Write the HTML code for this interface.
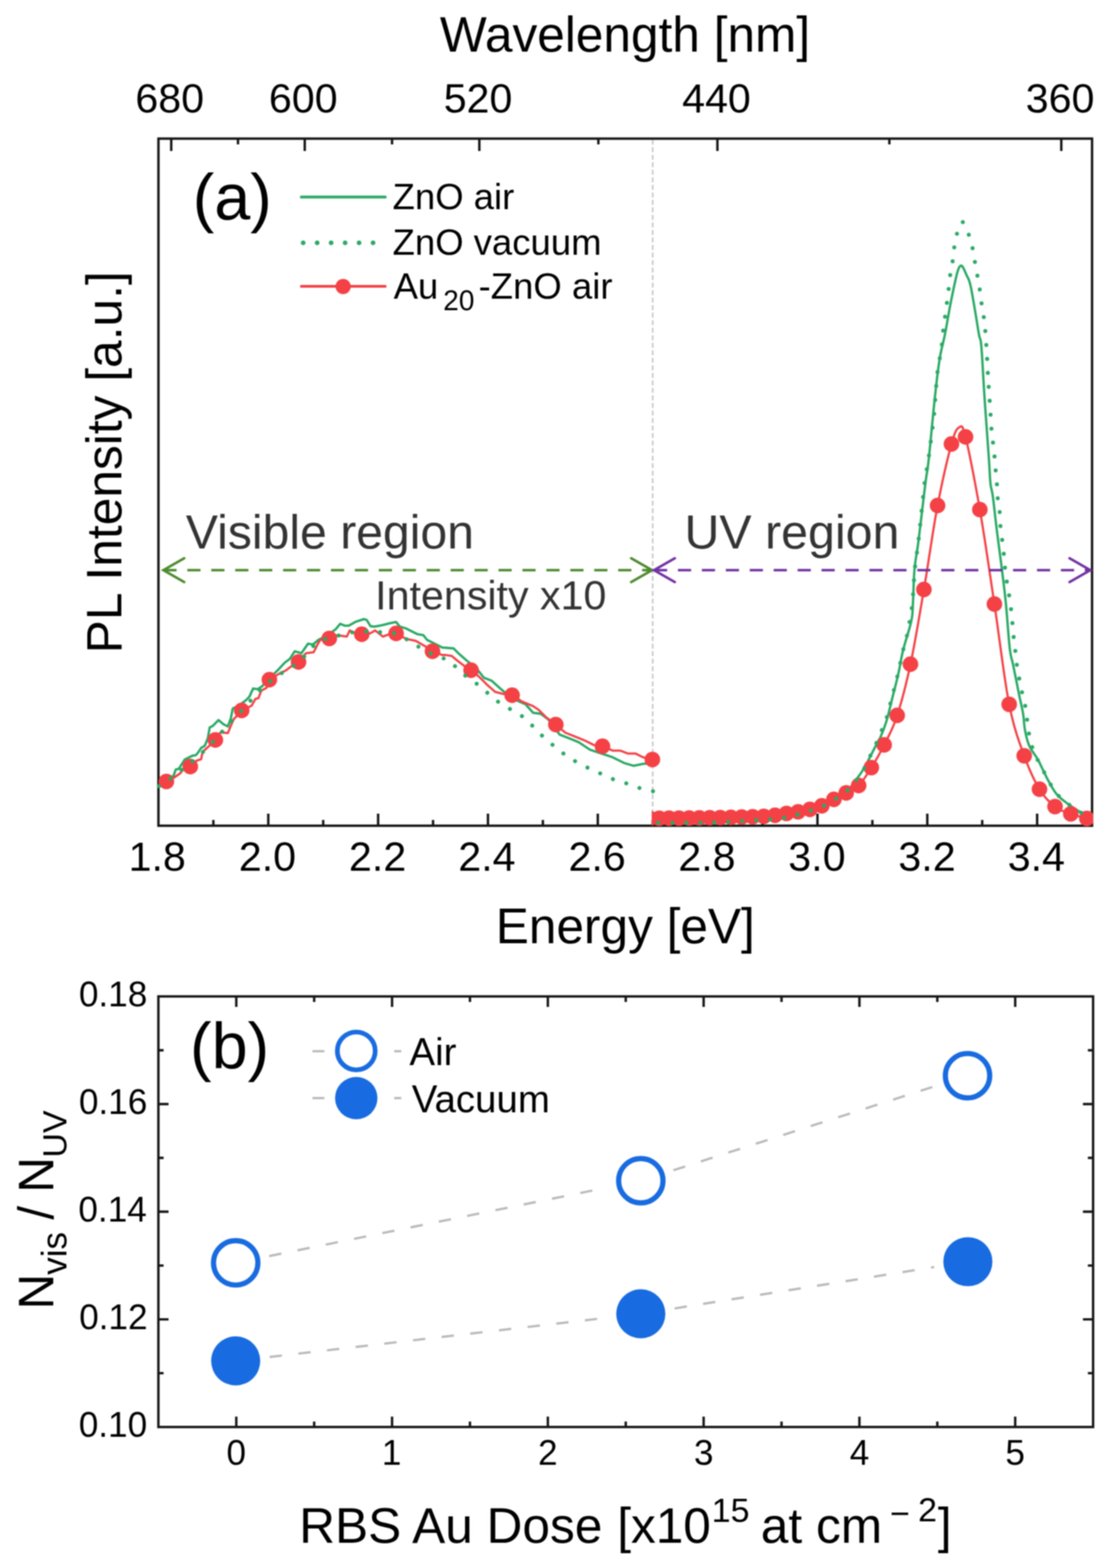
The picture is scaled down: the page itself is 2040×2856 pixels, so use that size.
<!DOCTYPE html>
<html><head><meta charset="utf-8"><title>PL spectra and N_vis/N_UV ratio</title>
<style>html,body{margin:0;padding:0;background:#fff;}svg{display:block;filter:blur(1px);}</style>
</head><body>
<svg width="2040" height="2856" viewBox="0 0 2040 2856"><rect x="0" y="0" width="2040" height="2856" fill="#fff"/>
<line x1="1188.86" y1="254.5" x2="1188.86" y2="1502" stroke="#c9c9c9" stroke-width="3" stroke-dasharray="9 4.7"/>
<rect x="288.6" y="252.5" width="1700.5" height="1251.5" fill="none" stroke="#161616" stroke-width="4.4"/>
<path d="M388.63 1504 V1493.5 M488.66 1504 V1482 M588.69 1504 V1493.5 M688.72 1504 V1482 M788.75 1504 V1493.5 M888.78 1504 V1482 M988.81 1504 V1493.5 M1088.84 1504 V1482 M1188.86 1504 V1493.5 M1288.89 1504 V1482 M1388.92 1504 V1493.5 M1488.95 1504 V1482 M1588.98 1504 V1493.5 M1689.01 1504 V1482 M1789.04 1504 V1493.5 M1889.07 1504 V1482 M311.9 252.5 V275 M555.08 252.5 V275 M873.08 252.5 V275 M1306.72 252.5 V275 M1933.08 252.5 V275 M433.49 252.5 V263 M714.08 252.5 V263 M1089.9 252.5 V263 M1619.9 252.5 V263" stroke="#161616" stroke-width="4.4" fill="none"/>
<defs><clipPath id="cv"><rect x="286" y="252.5" width="920" height="1253.5"/></clipPath>
<clipPath id="cu"><rect x="1187" y="252.5" width="804" height="1253.5"/></clipPath></defs>
<g clip-path="url(#cv)">
<path d="M289.5 1431 L300 1426 L310 1418 L316.2 1412.6 L320.2 1401.7 L325.6 1400.4 L336.5 1383.4 L350 1376.7 L356.8 1375.3 L360.9 1370.6 L366.3 1362.4 L373 1358.4 L378.5 1344.8 L381.9 1325.2 L388 1321.8 L398.1 1311.6 L406.9 1319.1 L415 1323.2 L420.5 1308.2 L423.9 1290.6 L435 1285 L447.6 1275.7 L454.3 1269 L461.1 1254 L469.2 1255.4 L477.4 1250 L490 1236 L505.9 1220.7 L518.8 1206.9 L528 1200 L536.9 1186.2 L549 1189.7 L561 1172.4 L570 1174 L580 1165.5 L595 1158 L611 1146.6 L619.7 1136.2 L628.3 1139.7 L635.2 1139.7 L647.2 1132.8 L662.8 1127.6 L668 1129.3 L674.8 1140.5 L681.7 1141.4 L695.5 1138.8 L709.3 1135.3 L721.4 1132.8 L728.3 1141.4 L740 1144.8 L750 1150 L760.7 1155.2 L771 1156.9 L777.9 1165.5 L788.3 1170.7 L805.5 1179.3 L826.2 1181 L836.6 1191.4 L850.3 1203.4 L867.6 1217.2 L881.4 1234.5 L895.2 1239.7 L912.4 1255.2 L933.1 1272.4 L957.2 1282.8 L971 1298.3 L984.8 1300 L998.6 1310.3 L1019.3 1337.9 L1036.6 1344.8 L1053.8 1351.7 L1074.5 1365.5 L1095.2 1372.4 L1115.9 1379.3 L1136.6 1389.7 L1153.8 1394.8 L1171 1391.4 L1189 1389.7" fill="none" stroke="#2aa965" stroke-width="4.3" stroke-linejoin="round" stroke-linecap="round"/>
<path d="M289.5 1430 L303.3 1423.4 L317.5 1416 L328.3 1408.5 L335 1400 L346 1396.3 L358.2 1385.5 L366.3 1382.8 L369 1369.2 L377.1 1362.4 L392.7 1347.5 L401.5 1334 L415 1335.3 L420.5 1321.8 L425.9 1309.6 L441.5 1294 L458.4 1285.2 L465.2 1273 L470.6 1271.7 L476 1258.1 L485.5 1252.7 L491.2 1237.9 L507.6 1227.6 L521.4 1220.7 L530 1214 L542.9 1205.2 L557.6 1189.7 L571.4 1187.9 L578.3 1174.1 L583.4 1165.5 L599.8 1162.9 L614.5 1156.9 L631.7 1159.5 L636.9 1148.3 L645 1152 L659.3 1155.2 L674.8 1153.4 L683.4 1148.3 L697.2 1159.5 L709.3 1155.2 L722.5 1154.5 L740 1163.8 L757.2 1167.2 L778 1179.3 L789 1186.2 L805.5 1193.1 L812.4 1193.1 L822.8 1194.8 L833.1 1203.4 L846.9 1213.8 L859.3 1220.7 L874.5 1234.5 L888.3 1248.3 L902 1260.3 L915.9 1263.8 L933.8 1266.2 L950.3 1277.6 L971 1286.2 L981.4 1293.1 L995.2 1306.9 L1012.4 1319.7 L1029.7 1334.5 L1046.9 1341.4 L1064.1 1348.3 L1081.4 1356.9 L1097.9 1359.3 L1115.9 1367.2 L1129.7 1367.2 L1143.4 1372.4 L1157.2 1372.4 L1171 1379.3 L1188.3 1383.4" fill="none" stroke="#f44145" stroke-width="4" stroke-linejoin="round" stroke-linecap="round"/>
<circle cx="303.09" cy="1423.4" r="14.2" fill="#f44145"/>
<circle cx="346.61" cy="1396.3" r="14.2" fill="#f44145"/>
<circle cx="392.27" cy="1347.7" r="14.2" fill="#f44145"/>
<circle cx="440.23" cy="1294" r="14.2" fill="#f44145"/>
<circle cx="490.66" cy="1238" r="14.2" fill="#f44145"/>
<circle cx="543.77" cy="1205.7" r="14.2" fill="#f44145"/>
<circle cx="599.78" cy="1162.9" r="14.2" fill="#f44145"/>
<circle cx="658.92" cy="1155.2" r="14.2" fill="#f44145"/>
<circle cx="721.47" cy="1153.8" r="14.2" fill="#f44145"/>
<circle cx="787.73" cy="1186.2" r="14.2" fill="#f44145"/>
<circle cx="858.04" cy="1220.7" r="14.2" fill="#f44145"/>
<circle cx="932.79" cy="1266.2" r="14.2" fill="#f44145"/>
<circle cx="1012.4" cy="1319.7" r="14.2" fill="#f44145"/>
<circle cx="1097.38" cy="1359.3" r="14.2" fill="#f44145"/>
<circle cx="1188.28" cy="1383.4" r="14.2" fill="#f44145"/>
<path d="M289.5 1432 L290.93 1431.2 L292.87 1430.15 L295.19 1428.88 L297.74 1427.41 L300.39 1425.77 L303 1424 L305.62 1422 L308.37 1419.74 L311.22 1417.31 L314.13 1414.81 L317.07 1412.34 L320 1410 L322.94 1407.8 L325.93 1405.67 L328.94 1403.56 L331.96 1401.44 L334.99 1399.27 L338 1397 L341.01 1394.63 L344.02 1392.19 L347.03 1389.69 L350.04 1387.15 L353.03 1384.58 L356 1382 L358.84 1379.53 L361.54 1377.19 L364.22 1374.81 L367.02 1372.26 L370.07 1369.37 L373.5 1366 L377.47 1361.97 L381.91 1357.37 L386.59 1352.44 L391.31 1347.41 L395.86 1342.52 L400 1338 L403.69 1333.87 L407.09 1329.94 L410.31 1326.15 L413.46 1322.44 L416.66 1318.74 L420 1315 L423.51 1311.23 L427.09 1307.5 L430.72 1303.78 L434.35 1300.06 L437.96 1296.34 L441.5 1292.6 L444.96 1288.85 L448.35 1285.09 L451.72 1281.32 L455.09 1277.55 L458.51 1273.77 L462 1270 L465.53 1266.18 L469.07 1262.31 L472.66 1258.44 L476.31 1254.62 L480.08 1250.89 L484 1247.3 L488.1 1243.85 L492.36 1240.5 L496.72 1237.24 L501.16 1234.07 L505.6 1230.99 L510 1228 L514.41 1225.2 L518.87 1222.61 L523.35 1220.11 L527.79 1217.58 L532.16 1214.88 L536.4 1211.9 L540.56 1208.56 L544.68 1204.96 L548.72 1201.19 L552.65 1197.37 L556.42 1193.61 L560 1190 L563.21 1186.44 L566.04 1182.82 L568.73 1179.26 L571.47 1175.86 L574.49 1172.73 L578 1170 L582.13 1167.7 L586.74 1165.74 L591.62 1164.06 L596.59 1162.59 L601.45 1161.26 L606 1160 L610.25 1158.88 L614.37 1157.96 L618.38 1157.19 L622.3 1156.48 L626.16 1155.78 L630 1155 L633.71 1154.1 L637.26 1153.11 L640.75 1152.12 L644.3 1151.22 L648.01 1150.49 L652 1150 L656.35 1149.82 L661 1149.89 L665.81 1150.12 L670.67 1150.44 L675.44 1150.76 L680 1151 L684.42 1151.14 L688.81 1151.26 L693.12 1151.38 L697.3 1151.52 L701.27 1151.72 L705 1152 L708.42 1152.31 L711.56 1152.63 L714.5 1153 L717.33 1153.48 L720.14 1154.13 L723 1155 L725.87 1156.12 L728.67 1157.44 L731.44 1158.94 L734.22 1160.56 L737.06 1162.26 L740 1164 L743.03 1165.83 L746.11 1167.78 L749.25 1169.81 L752.44 1171.89 L755.69 1173.97 L759 1176 L762.4 1178.04 L765.89 1180.13 L769.44 1182.21 L773 1184.25 L776.53 1186.2 L780 1188 L783.4 1189.64 L786.78 1191.16 L790.12 1192.59 L793.44 1193.95 L796.74 1195.28 L800 1196.6 L803.24 1197.78 L806.44 1198.76 L809.62 1199.71 L812.78 1200.79 L815.9 1202.17 L819 1204 L822.05 1206.42 L825.04 1209.33 L828 1212.53 L830.96 1215.83 L833.95 1219.05 L837 1222 L840.1 1224.69 L843.22 1227.26 L846.38 1229.75 L849.56 1232.19 L852.76 1234.59 L856 1237 L859.34 1239.4 L862.81 1241.78 L866.31 1244.12 L869.74 1246.44 L873 1248.74 L876 1251 L878.65 1253.21 L881 1255.37 L883.19 1257.5 L885.33 1259.63 L887.56 1261.79 L890 1264 L892.65 1266.31 L895.43 1268.7 L898.28 1271.12 L901.19 1273.52 L904.1 1275.83 L907 1278 L909.88 1280.02 L912.76 1281.93 L915.66 1283.75 L918.57 1285.52 L921.52 1287.26 L924.5 1289 L927.53 1290.68 L930.61 1292.26 L933.72 1293.81 L936.83 1295.41 L939.93 1297.11 L943 1299 L946.02 1301.03 L949 1303.15 L951.97 1305.38 L954.94 1307.74 L957.95 1310.27 L961 1313 L964.11 1316.02 L967.27 1319.33 L970.46 1322.81 L973.66 1326.33 L976.84 1329.77 L980 1333 L983.11 1336.02 L986.2 1338.93 L989.28 1341.75 L992.36 1344.52 L995.46 1347.26 L998.6 1350 L1001.8 1352.75 L1005.04 1355.48 L1008.3 1358.19 L1011.56 1360.85 L1014.8 1363.46 L1018 1366 L1021.09 1368.46 L1024.08 1370.85 L1027.05 1373.19 L1030.07 1375.48 L1033.23 1377.75 L1036.6 1380 L1040.25 1382.25 L1044.13 1384.5 L1048.15 1386.73 L1052.2 1388.9 L1056.18 1391 L1060 1393 L1063.65 1394.9 L1067.21 1396.73 L1070.71 1398.47 L1074.16 1400.16 L1077.59 1401.8 L1081 1403.4 L1084.39 1404.93 L1087.74 1406.39 L1091.06 1407.79 L1094.37 1409.17 L1097.68 1410.56 L1101 1412 L1104.29 1413.5 L1107.52 1415.04 L1110.75 1416.6 L1114.04 1418.13 L1117.44 1419.61 L1121 1421 L1124.83 1422.28 L1128.89 1423.48 L1133.06 1424.62 L1137.22 1425.74 L1141.24 1426.86 L1145 1428 L1148.38 1429.17 L1151.44 1430.36 L1154.38 1431.54 L1157.33 1432.71 L1160.49 1433.87 L1164 1435 L1168.23 1436.18 L1173.11 1437.41 L1178.19 1438.64 L1183 1439.76 L1187.09 1440.71 L1190 1441.4" fill="none" stroke="#2aa965" stroke-width="7.3" stroke-linejoin="round" stroke-linecap="round" stroke-dasharray="0.01 25.45"/>
</g>
<g clip-path="url(#cu)">
<path d="M1190 1498.5 L1196.64 1498.48 L1205.93 1498.46 L1216.88 1498.43 L1228.52 1498.4 L1239.88 1498.35 L1250 1498.3 L1258.91 1498.25 L1267.41 1498.2 L1275.62 1498.15 L1283.7 1498.07 L1291.78 1497.96 L1300 1497.8 L1308.33 1497.59 L1316.67 1497.34 L1325 1497.06 L1333.33 1496.74 L1341.67 1496.38 L1350 1496 L1358.56 1495.58 L1367.41 1495.13 L1376.25 1494.64 L1384.81 1494.12 L1392.82 1493.57 L1400 1493 L1406.22 1492.41 L1411.67 1491.81 L1416.56 1491.19 L1421.11 1490.52 L1425.52 1489.79 L1430 1489 L1434.46 1488.14 L1438.7 1487.22 L1442.81 1486.25 L1446.85 1485.22 L1450.89 1484.14 L1455 1483 L1459.2 1481.79 L1463.44 1480.52 L1467.69 1479.19 L1471.89 1477.81 L1476.01 1476.41 L1480 1475 L1483.84 1473.61 L1487.54 1472.23 L1491.16 1470.83 L1494.75 1469.35 L1498.34 1467.75 L1502 1466 L1505.71 1464.08 L1509.44 1462.02 L1513.19 1459.85 L1516.93 1457.58 L1520.67 1455.22 L1524.4 1452.8 L1528.2 1450.31 L1532.09 1447.73 L1535.98 1445.07 L1539.76 1442.33 L1543.33 1439.51 L1546.6 1436.6 L1549.51 1433.58 L1552.14 1430.43 L1554.56 1427.2 L1556.85 1423.93 L1559.11 1420.65 L1561.4 1417.4 L1563.75 1414.16 L1566.09 1410.9 L1568.39 1407.63 L1570.62 1404.37 L1572.73 1401.15 L1574.7 1398 L1576.42 1395.03 L1577.91 1392.26 L1579.29 1389.52 L1580.68 1386.67 L1582.21 1383.55 L1584 1380 L1586.18 1375.77 L1588.69 1370.91 L1591.33 1365.79 L1593.93 1360.75 L1596.31 1356.14 L1598.3 1352.3 L1599.79 1349.55 L1600.9 1347.67 L1601.79 1346.22 L1602.63 1344.76 L1603.58 1342.83 L1604.8 1340 L1606.32 1336.3 L1608 1332.09 L1609.79 1327.42 L1611.64 1322.33 L1613.5 1316.88 L1615.3 1311.1 L1617.06 1304.84 L1618.83 1298.02 L1620.6 1290.84 L1622.37 1283.47 L1624.14 1276.09 L1625.9 1268.9 L1627.68 1261.85 L1629.48 1254.8 L1631.28 1247.75 L1633.05 1240.7 L1634.77 1233.65 L1636.4 1226.6 L1637.86 1219.68 L1639.15 1212.91 L1640.38 1206.15 L1641.67 1199.24 L1643.14 1192.04 L1644.9 1184.4 L1647.14 1175.98 L1649.8 1166.83 L1652.64 1157.39 L1655.4 1148.1 L1657.84 1139.39 L1659.7 1131.7 L1660.9 1125.56 L1661.61 1120.74 L1661.99 1116.49 L1662.21 1112.11 L1662.43 1106.85 L1662.8 1100 L1663.24 1091.19 L1663.62 1080.92 L1663.99 1069.79 L1664.41 1058.37 L1664.96 1047.24 L1665.7 1037 L1666.6 1028.27 L1667.61 1020.71 L1668.74 1013.46 L1670.01 1005.62 L1671.43 996.33 L1673 984.7 L1674.87 969.56 L1677.06 951.38 L1679.39 931.74 L1681.7 912.24 L1683.83 894.46 L1685.6 880 L1686.91 870.14 L1687.86 863.86 L1688.62 859.31 L1689.37 854.62 L1690.28 847.94 L1691.5 837.4 L1693.11 821.97 L1694.99 802.93 L1697.03 781.89 L1699.1 760.48 L1701.09 740.31 L1702.9 723 L1704.5 708.51 L1705.97 695.53 L1707.36 683.79 L1708.73 673.02 L1710.13 662.95 L1711.6 653.3 L1713.16 644.46 L1714.76 636.73 L1716.39 629.69 L1718.03 622.94 L1719.64 616.08 L1721.2 608.7 L1722.71 600.77 L1724.19 592.6 L1725.64 584.31 L1727.08 576.04 L1728.53 567.89 L1730 560 L1731.52 552.16 L1733.1 544.24 L1734.67 536.46 L1736.21 529.01 L1737.67 522.12 L1739 516 L1740.19 510.66 L1741.27 505.93 L1742.26 501.75 L1743.2 498.07 L1744.1 494.84 L1745 492 L1745.88 489.61 L1746.71 487.74 L1747.51 486.31 L1748.29 485.26 L1749.05 484.51 L1749.8 484 L1750.51 483.75 L1751.18 483.81 L1751.82 484.19 L1752.49 484.85 L1753.2 485.79 L1754 487 L1754.88 488.54 L1755.83 490.44 L1756.83 492.61 L1757.86 494.99 L1758.92 497.47 L1760 500 L1761.1 502.33 L1762.22 504.47 L1763.38 506.74 L1764.56 509.41 L1765.76 512.8 L1767 517.2 L1768.28 522.78 L1769.59 529.35 L1770.94 536.63 L1772.3 544.35 L1773.66 552.23 L1775 560 L1776.37 568.08 L1777.8 576.76 L1779.22 585.6 L1780.59 594.17 L1781.87 602.01 L1783 608.7 L1783.94 613.2 L1784.71 615.67 L1785.39 617.43 L1786.04 619.77 L1786.72 624.02 L1787.5 631.5 L1788.35 642.51 L1789.22 656.06 L1790.12 671.53 L1791.08 688.26 L1792.1 705.63 L1793.2 723 L1794.47 741.57 L1795.92 762.1 L1797.44 783.26 L1798.91 803.74 L1800.23 822.22 L1801.3 837.4 L1802.04 848.86 L1802.53 857.57 L1802.88 864.29 L1803.17 869.76 L1803.51 874.75 L1804 880 L1804.62 884.79 L1805.28 888.39 L1805.99 891.49 L1806.76 894.81 L1807.59 899.08 L1808.5 905 L1809.48 912.68 L1810.53 921.56 L1811.64 931.39 L1812.82 941.88 L1814.07 952.78 L1815.4 963.8 L1816.86 975.29 L1818.46 987.52 L1820.12 1000.15 L1821.8 1012.84 L1823.41 1025.24 L1824.9 1037 L1826.25 1047.87 L1827.51 1058.06 L1828.71 1067.96 L1829.88 1077.96 L1831.03 1088.45 L1832.2 1099.8 L1833.38 1112.75 L1834.57 1127.12 L1835.74 1141.97 L1836.89 1156.37 L1838.01 1169.36 L1839.1 1180 L1840.14 1187.86 L1841.14 1193.62 L1842.11 1197.97 L1843.06 1201.61 L1844.02 1205.26 L1845 1209.6 L1846 1214.52 L1847 1219.44 L1848 1224.35 L1849 1229.26 L1850 1234.18 L1851 1239.1 L1851.98 1244.01 L1852.95 1248.9 L1853.91 1253.79 L1854.89 1258.7 L1855.88 1263.67 L1856.9 1268.7 L1858 1273.83 L1859.16 1279.06 L1860.35 1284.33 L1861.5 1289.6 L1862.57 1294.84 L1863.5 1300 L1864.21 1305.1 L1864.74 1310.16 L1865.18 1315.19 L1865.64 1320.18 L1866.21 1325.12 L1867 1330 L1867.96 1334.86 L1868.99 1339.7 L1870.14 1344.49 L1871.45 1349.2 L1872.96 1353.78 L1874.7 1358.2 L1876.82 1362.48 L1879.33 1366.66 L1882.03 1370.71 L1884.74 1374.61 L1887.29 1378.35 L1889.5 1381.9 L1891.29 1385.13 L1892.8 1388.02 L1894.14 1390.75 L1895.44 1393.48 L1896.82 1396.37 L1898.4 1399.6 L1900.16 1403.2 L1902.01 1407.06 L1903.93 1411.08 L1905.94 1415.19 L1908.03 1419.29 L1910.2 1423.3 L1912.42 1427.31 L1914.69 1431.39 L1917.04 1435.47 L1919.52 1439.47 L1922.16 1443.3 L1925 1446.9 L1928.14 1450.27 L1931.57 1453.49 L1935.17 1456.54 L1938.8 1459.43 L1942.36 1462.15 L1945.7 1464.7 L1948.82 1467.01 L1951.82 1469.08 L1954.74 1470.97 L1957.61 1472.79 L1960.48 1474.6 L1963.4 1476.5 L1966.46 1478.54 L1969.64 1480.66 L1972.83 1482.78 L1975.89 1484.82 L1978.69 1486.69 L1981.1 1488.3 L1983.14 1489.67 L1984.9 1490.86 L1986.41 1491.89 L1987.67 1492.75 L1988.69 1493.45 L1989.5 1494" fill="none" stroke="#2aa965" stroke-width="4.3" stroke-linejoin="round" stroke-linecap="round"/>
<path d="M1165.54 1490.5 L1167.44 1490.5 L1170.06 1490.5 L1173.16 1490.51 L1176.51 1490.51 L1179.87 1490.51 L1183 1490.5 L1185.93 1490.49 L1188.86 1490.47 L1191.81 1490.46 L1194.76 1490.44 L1197.72 1490.42 L1200.68 1490.4 L1203.65 1490.38 L1206.63 1490.37 L1209.61 1490.36 L1212.6 1490.34 L1215.59 1490.32 L1218.6 1490.3 L1221.61 1490.27 L1224.62 1490.24 L1227.64 1490.21 L1230.67 1490.17 L1233.71 1490.13 L1236.75 1490.1 L1239.8 1490.07 L1242.86 1490.03 L1245.92 1490 L1248.99 1489.97 L1252.07 1489.93 L1255.15 1489.9 L1258.24 1489.87 L1261.34 1489.84 L1264.44 1489.81 L1267.55 1489.77 L1270.67 1489.74 L1273.8 1489.7 L1276.93 1489.66 L1280.07 1489.61 L1283.21 1489.56 L1286.37 1489.5 L1289.53 1489.45 L1292.69 1489.4 L1295.87 1489.35 L1299.05 1489.3 L1302.24 1489.26 L1305.44 1489.21 L1308.64 1489.16 L1311.85 1489.1 L1315.07 1489.04 L1318.3 1488.98 L1321.53 1488.91 L1324.77 1488.84 L1328.02 1488.77 L1331.27 1488.7 L1334.54 1488.62 L1337.81 1488.54 L1341.08 1488.46 L1344.37 1488.38 L1347.66 1488.29 L1350.96 1488.2 L1354.27 1488.11 L1357.59 1488.01 L1360.91 1487.91 L1364.24 1487.81 L1367.58 1487.71 L1370.93 1487.6 L1374.28 1487.5 L1377.64 1487.42 L1381.01 1487.33 L1384.39 1487.23 L1387.78 1487.09 L1391.17 1486.9 L1394.57 1486.67 L1397.98 1486.41 L1401.4 1486.12 L1404.83 1485.79 L1408.26 1485.42 L1411.7 1485 L1415.15 1484.52 L1418.61 1483.96 L1422.08 1483.37 L1425.55 1482.76 L1429.03 1482.16 L1432.53 1481.6 L1436.03 1481.09 L1439.53 1480.62 L1443.05 1480.16 L1446.57 1479.69 L1450.11 1479.18 L1453.65 1478.6 L1457.2 1477.97 L1460.76 1477.31 L1464.32 1476.61 L1467.9 1475.87 L1471.48 1475.07 L1475.08 1474.2 L1478.68 1473.31 L1482.29 1472.41 L1485.91 1471.46 L1489.53 1470.41 L1493.17 1469.2 L1496.82 1467.8 L1500.47 1466.15 L1504.13 1464.27 L1507.8 1462.24 L1511.49 1460.13 L1515.17 1458.03 L1518.87 1456 L1522.58 1454.05 L1526.3 1452.13 L1530.02 1450.21 L1533.76 1448.26 L1537.5 1446.27 L1541.26 1444.2 L1545.02 1442.27 L1548.79 1440.53 L1552.57 1438.75 L1556.37 1436.68 L1560.17 1434.08 L1563.97 1430.7 L1567.79 1426.47 L1571.62 1421.57 L1575.46 1416.14 L1579.31 1410.32 L1583.17 1404.26 L1587.03 1398.1 L1590.91 1391.86 L1594.8 1385.44 L1598.69 1378.77 L1602.6 1371.81 L1606.51 1364.51 L1610.44 1356.8 L1614.37 1349.01 L1618.32 1341.25 L1622.27 1333.14 L1626.24 1324.31 L1630.22 1314.39 L1634.2 1303 L1638.2 1290.24 L1642.2 1276.44 L1646.22 1261.54 L1650.24 1245.5 L1654.28 1228.27 L1658.33 1209.8 L1662.39 1189.79 L1666.45 1168.23 L1670.53 1145.48 L1674.62 1121.9 L1678.72 1097.85 L1682.83 1073.7 L1686.95 1048.72 L1691.08 1022.46 L1695.22 995.74 L1699.37 969.36 L1703.53 944.11 L1707.71 920.8 L1712.03 898.82 L1716.52 877.41 L1721.02 857.14 L1725.38 838.57 L1729.42 822.27 L1732.98 808.8 L1736 798.47 L1738.58 790.89 L1740.84 785.57 L1742.92 782.06 L1744.93 779.86 L1747 778.5 L1748.91 777.28 L1750.53 776.44 L1752.07 776.92 L1753.79 779.67 L1755.9 785.61 L1758.65 795.7 L1762.16 810.65 L1766.26 829.86 L1770.77 852.27 L1775.47 876.83 L1780.2 902.49 L1784.73 928.2 L1789.12 954.47 L1793.52 982.24 L1797.93 1011.12 L1802.35 1040.69 L1806.79 1070.55 L1811.23 1100.3 L1815.69 1131.15 L1820.16 1163.68 L1824.64 1196.5 L1829.14 1228.23 L1833.65 1257.49 L1838.16 1282.9 L1842.7 1304.04 L1847.24 1321.93 L1851.79 1337.36 L1856.36 1351.09 L1860.94 1363.91 L1865.53 1376.6 L1870.14 1388.99 L1874.76 1400.41 L1879.39 1410.93 L1884.03 1420.59 L1888.69 1429.43 L1893.36 1437.5 L1898.04 1444.67 L1902.73 1450.88 L1907.44 1456.27 L1912.16 1461.01 L1916.89 1465.23 L1921.64 1469.1 L1926.4 1472.43 L1931.17 1475.07 L1935.96 1477.21 L1940.76 1479.01 L1945.57 1480.68 L1950.4 1482.4 L1955.58 1484.17 L1961.19 1485.84 L1966.81 1487.38 L1972.04 1488.73 L1976.45 1489.85 L1979.64 1490.7" fill="none" stroke="#f44145" stroke-width="4" stroke-linejoin="round" stroke-linecap="round"/>
<circle cx="1979.64" cy="1490.7" r="14.2" fill="#f44145"/>
<circle cx="1950.4" cy="1482.4" r="14.2" fill="#f44145"/>
<circle cx="1921.64" cy="1469.1" r="14.2" fill="#f44145"/>
<circle cx="1893.36" cy="1437.5" r="14.2" fill="#f44145"/>
<circle cx="1865.53" cy="1376.6" r="14.2" fill="#f44145"/>
<circle cx="1838.16" cy="1282.9" r="14.2" fill="#f44145"/>
<circle cx="1811.23" cy="1100.3" r="14.2" fill="#f44145"/>
<circle cx="1784.73" cy="928.2" r="14.2" fill="#f44145"/>
<circle cx="1758.65" cy="795.7" r="14.2" fill="#f44145"/>
<circle cx="1732.98" cy="808.8" r="14.2" fill="#f44145"/>
<circle cx="1707.71" cy="920.8" r="14.2" fill="#f44145"/>
<circle cx="1682.83" cy="1073.7" r="14.2" fill="#f44145"/>
<circle cx="1658.33" cy="1209.8" r="14.2" fill="#f44145"/>
<circle cx="1634.2" cy="1303" r="14.2" fill="#f44145"/>
<circle cx="1610.44" cy="1356.8" r="14.2" fill="#f44145"/>
<circle cx="1587.03" cy="1398.1" r="14.2" fill="#f44145"/>
<circle cx="1563.97" cy="1430.7" r="14.2" fill="#f44145"/>
<circle cx="1541.26" cy="1444.2" r="14.2" fill="#f44145"/>
<circle cx="1518.87" cy="1456" r="14.2" fill="#f44145"/>
<circle cx="1496.82" cy="1467.8" r="14.2" fill="#f44145"/>
<circle cx="1475.08" cy="1474.2" r="14.2" fill="#f44145"/>
<circle cx="1453.65" cy="1478.6" r="14.2" fill="#f44145"/>
<circle cx="1432.53" cy="1481.6" r="14.2" fill="#f44145"/>
<circle cx="1411.7" cy="1485" r="14.2" fill="#f44145"/>
<circle cx="1391.17" cy="1486.9" r="14.2" fill="#f44145"/>
<circle cx="1370.93" cy="1487.6" r="14.2" fill="#f44145"/>
<circle cx="1350.96" cy="1488.2" r="14.2" fill="#f44145"/>
<circle cx="1331.27" cy="1488.7" r="14.2" fill="#f44145"/>
<circle cx="1311.85" cy="1489.1" r="14.2" fill="#f44145"/>
<circle cx="1292.69" cy="1489.4" r="14.2" fill="#f44145"/>
<circle cx="1273.8" cy="1489.7" r="14.2" fill="#f44145"/>
<circle cx="1255.15" cy="1489.9" r="14.2" fill="#f44145"/>
<circle cx="1236.75" cy="1490.1" r="14.2" fill="#f44145"/>
<circle cx="1218.6" cy="1490.3" r="14.2" fill="#f44145"/>
<circle cx="1200.68" cy="1490.4" r="14.2" fill="#f44145"/>
<circle cx="1183" cy="1490.5" r="14.2" fill="#f44145"/>
<circle cx="1165.54" cy="1490.5" r="14.2" fill="#f44145"/>
<path d="M1190 1498.5 L1250 1498.6 L1300 1498.3 L1326 1496.8 L1352 1495.5 L1377 1494 L1402 1492.4 L1428 1489.4 L1453 1483.8 L1478 1476 L1503 1466.7 L1524.6 1453.8 L1546.9 1437.4 L1562 1418 L1575 1398 L1597 1352 L1614 1311 L1625 1269 L1636 1226 L1645 1184 L1654 1150 L1662 1100 L1666 1037 L1673 985 L1684 880 L1692 830 L1701 760 L1705.2 703.6 L1707.5 678.4 L1711.6 653.3 L1715.5 629.3 L1717.8 603 L1721.2 577.8 L1724.6 552.6 L1727.6 528.2 L1730.4 503 L1735 476.7 L1737.9 451.6 L1742.5 426.9 L1753.2 403.6 L1763.5 423.9 L1770.8 448.6 L1775 473.3 L1779.5 497.8 L1784 522.9 L1787 548 L1791.4 573.7 L1794.4 599 L1796.2 624.2 L1797.8 649.8 L1799 675 L1800.6 700.8 L1802.4 726 L1804 751.1 L1805.4 776.3 L1808.1 801.5 L1811.1 826.6 L1813.1 852.2 L1815.7 877.4 L1816.5 903 L1820.7 929.2 L1821.7 954.3 L1824.9 979.5 L1828 1004.6 L1830 1029.7 L1833.2 1055.9 L1837.4 1080 L1841.2 1105.5 L1843.7 1130.8 L1845.8 1156.4 L1849.1 1183 L1851.3 1206.6 L1855.8 1232.1 L1860.6 1256.9 L1866.8 1281.6 L1870.3 1306.5 L1873.2 1331.6 L1879.1 1358.2 L1888 1380.4 L1898.4 1399.6 L1910.2 1423.3 L1925 1446.9 L1945.7 1464.7 L1963.4 1476.5 L1981.1 1488.3 L1989.5 1494" fill="none" stroke="#2aa965" stroke-width="7.3" stroke-linejoin="round" stroke-linecap="round" stroke-dasharray="0.01 25.45" stroke-dashoffset="-9.3"/>
</g>
<line x1="297.6" y1="1038.5" x2="1187.6" y2="1038.5" stroke="#4e8a2e" stroke-width="4.6" stroke-dasharray="24 19.6"/>
<path d="M335.6 1016.8 L297.6 1038.5 L335.6 1060.2" fill="none" stroke="#4e8a2e" stroke-width="4.6" stroke-linecap="round" stroke-linejoin="miter" stroke-miterlimit="10"/>
<path d="M1149.6 1016.8 L1187.6 1038.5 L1149.6 1060.2" fill="none" stroke="#4e8a2e" stroke-width="4.6" stroke-linecap="round" stroke-linejoin="miter" stroke-miterlimit="10"/>
<line x1="1191.2" y1="1038.5" x2="1986" y2="1038.5" stroke="#7232a3" stroke-width="4.6" stroke-dasharray="24 19.6"/>
<path d="M1229.2 1016.8 L1191.2 1038.5 L1229.2 1060.2" fill="none" stroke="#7232a3" stroke-width="4.6" stroke-linecap="round" stroke-linejoin="miter" stroke-miterlimit="10"/>
<path d="M1948 1016.8 L1986 1038.5 L1948 1060.2" fill="none" stroke="#7232a3" stroke-width="4.6" stroke-linecap="round" stroke-linejoin="miter" stroke-miterlimit="10"/>
<g font-family="Liberation Sans, Arial, sans-serif">
<text x="801.35" y="93.9" font-size="90.3" fill="#000">Wavelength [nm]</text>
<text x="246.6" y="204.6" font-size="75" fill="#000">680</text>
<text x="489.78" y="204.6" font-size="75" fill="#000">600</text>
<text x="808.15" y="204.6" font-size="75" fill="#000">520</text>
<text x="1242.45" y="204.6" font-size="75" fill="#000">440</text>
<text x="1868.25" y="204.6" font-size="75" fill="#000">360</text>
<text x="234.26" y="1586.2" font-size="75" fill="#000">1.8</text>
<text x="435.07" y="1586.2" font-size="75" fill="#000">2.0</text>
<text x="635.59" y="1586.2" font-size="75" fill="#000">2.2</text>
<text x="834.81" y="1586.2" font-size="75" fill="#000">2.4</text>
<text x="1035.43" y="1586.2" font-size="75" fill="#000">2.6</text>
<text x="1235.49" y="1586.2" font-size="75" fill="#000">2.8</text>
<text x="1435.83" y="1586.2" font-size="75" fill="#000">3.0</text>
<text x="1636.36" y="1586.2" font-size="75" fill="#000">3.2</text>
<text x="1835.57" y="1586.2" font-size="75" fill="#000">3.4</text>
<text x="902.95" y="1717.7" font-size="90.3" fill="#000">Energy [eV]</text>
<text transform="translate(220.5 1189.97) rotate(-90)" x="0" y="0" font-size="90.5">PL Intensity [a.u.]</text>
<text x="350.93" y="399.5" font-size="118" fill="#000">(a)</text>
<line x1="549" y1="358.9" x2="701.5" y2="358.9" stroke="#2aa965" stroke-width="5.4" stroke-linecap="round"/>
<line x1="552.2" y1="442.2" x2="680" y2="442.2" stroke="#2aa965" stroke-width="8.6" stroke-linecap="round" stroke-dasharray="0.01 25.45"/>
<line x1="549" y1="521.5" x2="701.5" y2="521.5" stroke="#f44145" stroke-width="5.2" stroke-linecap="round"/>
<circle cx="625" cy="521.8" r="13.9" fill="#f44145"/>
<text x="715.04" y="381" font-size="66.5" fill="#000">ZnO air</text>
<text x="715.04" y="463.6" font-size="66.5" fill="#000">ZnO vacuum</text>
<text x="717.03" y="544.3" font-size="66.5" fill="#000">Au</text>
<text x="807.35" y="565" font-size="51" fill="#000">20</text>
<text x="871.71" y="544.3" font-size="66.5" fill="#000">-ZnO air</text>
<text x="338.56" y="999" font-size="87.7" fill="#333333">Visible region</text>
<text x="1246.78" y="999.2" font-size="88" fill="#333333">UV region</text>
<text x="683.36" y="1109.9" font-size="75" fill="#333333">Intensity x10</text>
</g>
<line x1="490.36" y1="2287.82" x2="1106.14" y2="2162.98" stroke="#bababa" stroke-width="4.2" stroke-dasharray="22.5 30.05"/>
<line x1="1226.51" y1="2131.53" x2="1702.99" y2="1978.37" stroke="#bababa" stroke-width="4.2" stroke-dasharray="22.5 30.05"/>
<line x1="491.18" y1="2471.6" x2="1105.32" y2="2400.2" stroke="#bababa" stroke-width="4.2" stroke-dasharray="22.5 30.05"/>
<line x1="1228.72" y1="2383.2" x2="1701.38" y2="2307.9" stroke="#bababa" stroke-width="4.2" stroke-dasharray="22.5 30.05"/>
<circle cx="429.3" cy="2300.2" r="40.4" fill="#fff" stroke="#186be0" stroke-width="9.4"/>
<circle cx="1167.2" cy="2150.6" r="40.4" fill="#fff" stroke="#186be0" stroke-width="9.4"/>
<circle cx="1762.3" cy="1959.3" r="40.4" fill="#fff" stroke="#186be0" stroke-width="9.4"/>
<circle cx="429.3" cy="2478.8" r="44.7" fill="#186be0"/>
<circle cx="1167.2" cy="2393" r="44.7" fill="#186be0"/>
<circle cx="1762.9" cy="2298.1" r="44.7" fill="#186be0"/>
<line x1="569.2" y1="1914.7" x2="590.8" y2="1914.7" stroke="#bababa" stroke-width="4.2"/>
<line x1="718" y1="1914.7" x2="730.9" y2="1914.7" stroke="#bababa" stroke-width="4.2"/>
<line x1="569.2" y1="2000.1" x2="590.8" y2="2000.1" stroke="#bababa" stroke-width="4.2"/>
<line x1="718" y1="2000.1" x2="730.9" y2="2000.1" stroke="#bababa" stroke-width="4.2"/>
<circle cx="648.9" cy="1914.2" r="34.5" fill="#fff" stroke="#186be0" stroke-width="8.6"/>
<circle cx="648.9" cy="2000.1" r="38.6" fill="#186be0"/>
<rect x="288.5" y="1814.9" width="1702.5" height="784.3" fill="none" stroke="#161616" stroke-width="4.4"/>
<path d="M430.38 2599.2 V2580.2 M430.38 1814.9 V1833.9 M572.25 2599.2 V2589.2 M572.25 1814.9 V1824.9 M714.12 2599.2 V2580.2 M714.12 1814.9 V1833.9 M856 2599.2 V2589.2 M856 1814.9 V1824.9 M997.88 2599.2 V2580.2 M997.88 1814.9 V1833.9 M1139.75 2599.2 V2589.2 M1139.75 1814.9 V1824.9 M1281.62 2599.2 V2580.2 M1281.62 1814.9 V1833.9 M1423.5 2599.2 V2589.2 M1423.5 1814.9 V1824.9 M1565.38 2599.2 V2580.2 M1565.38 1814.9 V1833.9 M1707.25 2599.2 V2589.2 M1707.25 1814.9 V1824.9 M1849.12 2599.2 V2580.2 M1849.12 1814.9 V1833.9 M288.5 2501.16 H298 M1991 2501.16 H1981.5 M288.5 2403.12 H307 M1991 2403.12 H1972.5 M288.5 2305.09 H298 M1991 2305.09 H1981.5 M288.5 2207.05 H307 M1991 2207.05 H1972.5 M288.5 2109.01 H298 M1991 2109.01 H1981.5 M288.5 2010.97 H307 M1991 2010.97 H1972.5 M288.5 1912.94 H298 M1991 1912.94 H1981.5" stroke="#161616" stroke-width="4.4" fill="none"/>
<g font-family="Liberation Sans, Arial, sans-serif">
<text x="143.42" y="2617.4" font-size="64" fill="#000">0.10</text>
<text x="144.22" y="2421.32" font-size="64" fill="#000">0.12</text>
<text x="142.78" y="2225.25" font-size="64" fill="#000">0.14</text>
<text x="143.74" y="2029.17" font-size="64" fill="#000">0.16</text>
<text x="143.74" y="1833.1" font-size="64" fill="#000">0.18</text>
<text x="412.54" y="2667.5" font-size="64" fill="#000">0</text>
<text x="695.49" y="2667.5" font-size="64" fill="#000">1</text>
<text x="980.12" y="2667.5" font-size="64" fill="#000">2</text>
<text x="1264.03" y="2667.5" font-size="64" fill="#000">3</text>
<text x="1547.78" y="2667.5" font-size="64" fill="#000">4</text>
<text x="1831.37" y="2667.5" font-size="64" fill="#000">5</text>
<text x="346.12" y="1946.3" font-size="118" fill="#000">(b)</text>
<text x="745.83" y="1939.7" font-size="70" fill="#000">Air</text>
<text x="749.95" y="2026" font-size="70" fill="#000">Vacuum</text>
<text x="545.05" y="2810.1" font-size="90.3" fill="#000">RBS Au Dose</text>
<text x="1124.15" y="2810.1" font-size="90.3" fill="#000">[x10</text>
<text x="1296.35" y="2772.3" font-size="62" fill="#000">15</text>
<text x="1385.86" y="2810.1" font-size="90.3" fill="#000">at cm</text>
<text x="1621" y="2777.5" font-size="62" fill="#000">−</text>
<text x="1672.3" y="2770.8" font-size="62" fill="#000">2</text>
<text x="1708.22" y="2810.1" font-size="90.3" fill="#000">]</text>
<g transform="translate(97.4 2385.3) rotate(-90)">
<text x="0" y="0" font-size="90">N</text>
<text x="63.2" y="23.7" font-size="64">vis</text>
<text x="163.7" y="0" font-size="90">/</text>
<text x="212.8" y="0" font-size="90">N</text>
<text x="276.9" y="24" font-size="62">UV</text>
</g>
</g></svg>
</body></html>
